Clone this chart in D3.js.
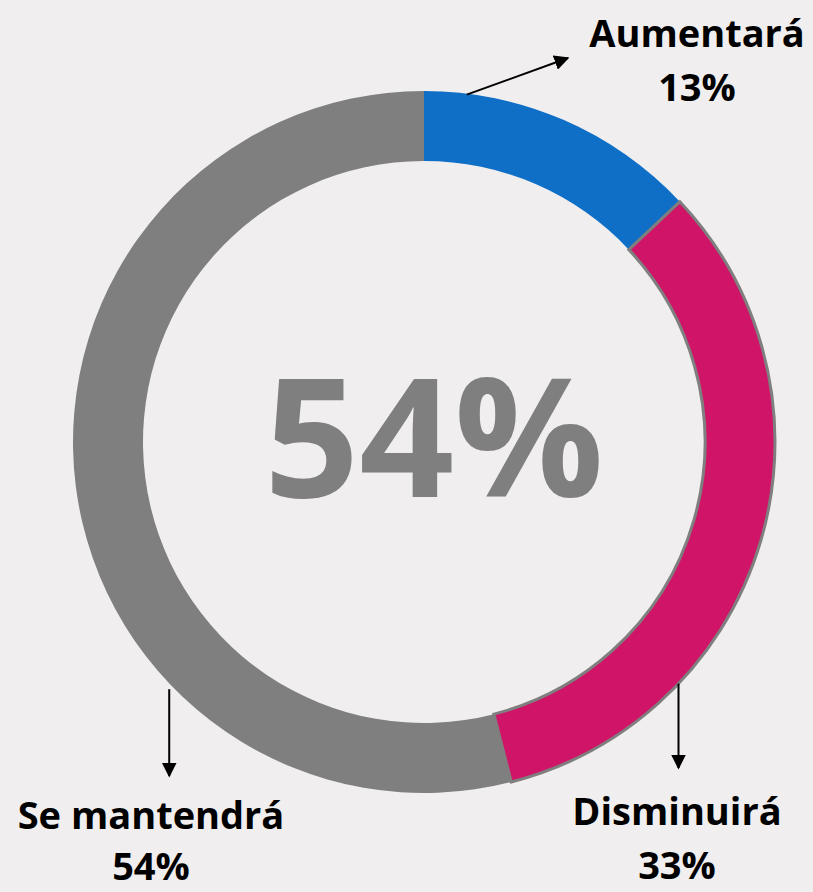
<!DOCTYPE html>
<html>
<head>
<meta charset="utf-8">
<script src="https://cdn.jsdelivr.net/npm/d3@7"></script>
<style>
  html, body { margin: 0; padding: 0; background: #F0EEEF; }
  svg { display: block; }
  text { font-family: "Open Sans", "DejaVu Sans", sans-serif; font-weight: bold; }
</style>
</head>
<body>
<div id="chart"></div>
<script>
// data
var categories = ["Aumentará", "Disminuirá", "Se mantendrá"];
var values = [13, 33, 54];
var colors = ["#0F6FC6", "#D01467", "#7F7F7F"];
var centerLabel = "54%";

var width = 813, height = 892;
var cx = 424, cy = 442;
var outerR = 351, innerR = 281;

var svg = d3.select("#chart").append("svg")
  .attr("width", width)
  .attr("height", height);

svg.append("defs").append("marker")
  .attr("id", "arrow")
  .attr("viewBox", "0 0 10 10")
  .attr("refX", 9).attr("refY", 5)
  .attr("markerWidth", 7.5).attr("markerHeight", 7.5)
  .attr("orient", "auto")
  .append("path")
  .attr("d", "M0,0 L10,5 L0,10 z")
  .attr("fill", "#000");

var pie = d3.pie().sort(null).value(function(d) { return d; });
var arc = d3.arc().innerRadius(innerR).outerRadius(outerR);
var arcs = pie(values);

var g = svg.append("g").attr("transform", "translate(" + cx + "," + cy + ")");

g.selectAll("path.slice")
  .data(arcs)
  .enter().append("path")
  .attr("class", "slice")
  .attr("d", arc)
  .attr("fill", function(d, i) { return colors[i]; })
  .attr("stroke", function(d, i) { return i === 1 ? "#7F7F7F" : "none"; })
  .attr("stroke-width", 3);

// center number
g.append("text")
  .attr("x", 10)
  .attr("y", 55)
  .attr("text-anchor", "middle")
  .attr("font-size", 166)
  .attr("fill", "#7F7F7F")
  .text(centerLabel);

// labels: arrow start (fraction into slice), arrow end, text position
var labelLayout = [
  {frac: 0.15, r: 350, end: [568, 58], tx: 697, ty: 47, ty2: 101},
  {frac: 0.73, r: 351, end: [677, 768], tx: 677, ty: 825, ty2: 879},
  {frac: 0.31, r: 355, end: [171, 776], tx: 151, ty: 829, ty2: 880}
];

arcs.forEach(function(a, i) {
  var L = labelLayout[i];
  var ang = a.startAngle + (a.endAngle - a.startAngle) * L.frac;
  var sx = cx + L.r * Math.sin(ang);
  var sy = cy - L.r * Math.cos(ang);
  var ex = L.end[0], ey = L.end[1];
  if (i > 0) ex = sx; // vertical arrows
  svg.append("line")
    .attr("x1", sx).attr("y1", sy)
    .attr("x2", ex).attr("y2", ey)
    .attr("stroke", "#000")
    .attr("stroke-width", 2)
    .attr("marker-end", "url(#arrow)");

  svg.append("text")
    .attr("x", L.tx).attr("y", L.ty)
    .attr("text-anchor", "middle")
    .attr("font-size", 38)
    .attr("fill", "#000")
    .text(categories[i]);
  svg.append("text")
    .attr("x", L.tx).attr("y", L.ty2)
    .attr("text-anchor", "middle")
    .attr("font-size", 38)
    .attr("fill", "#000")
    .text(values[i] + "%");
});
</script>
</body>
</html>
